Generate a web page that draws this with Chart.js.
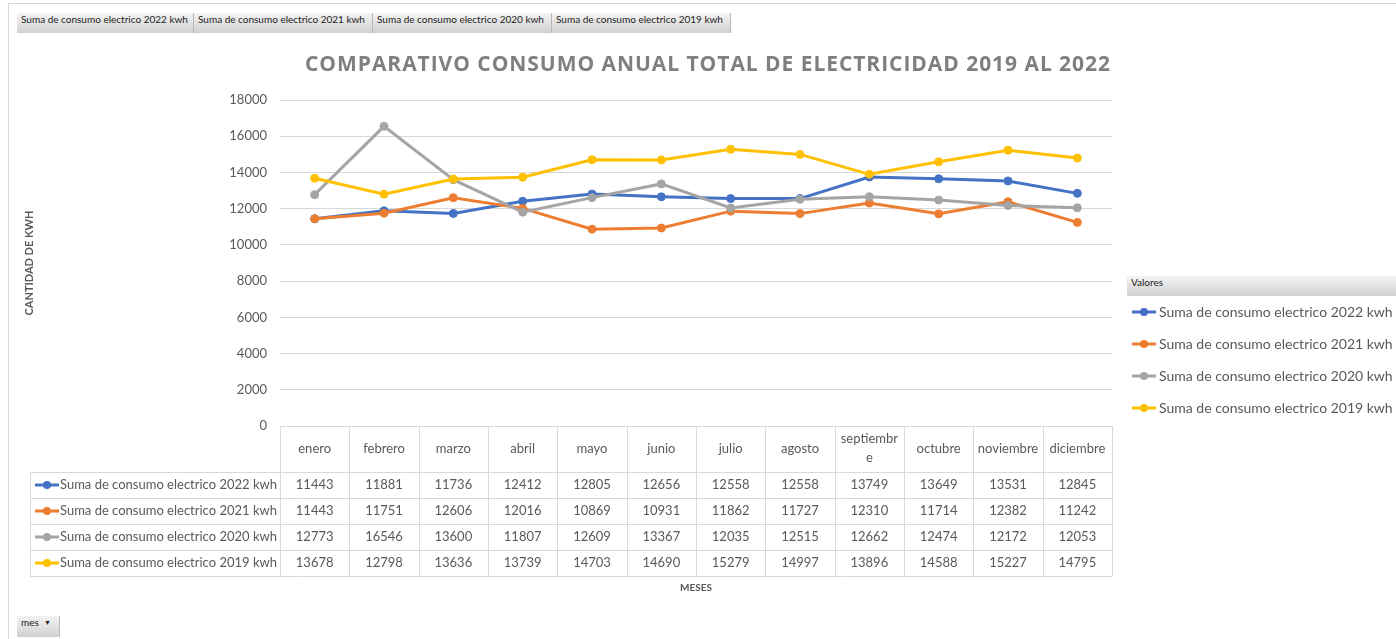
<!DOCTYPE html>
<html>
<head>
<meta charset="utf-8">
<script src="https://cdn.jsdelivr.net/npm/chart.js@4.4.1/dist/chart.umd.min.js"></script>
<style>
  html, body { margin: 0; padding: 0; background: #fff; }
  #wrap { position: relative; width: 1396px; height: 639px; overflow: hidden; }
  #wrap canvas { position: absolute; left: 0; top: 0; }
  .btn { position: absolute; height: 20px; line-height: 20px; font: 10px Lato, sans-serif; color: #222;
         background: linear-gradient(#f4f4f4, #d0d0d0); border-right: 1px solid #b8b8b8;
         box-sizing: border-box; padding-left: 4px; white-space: nowrap; }
  .frameTop { position: absolute; left: 8px; top: 3px; width: 1388px; height: 1px; background: #d6d6d6; }
  .frameLeft { position: absolute; left: 8px; top: 3px; width: 1px; height: 636px; background: #d6d6d6; }
</style>
</head>
<body>
<div id="wrap">
  <canvas id="consumoChart" width="1396" height="639"></canvas>
  <div class="frameTop"></div>
  <div class="frameLeft"></div>
  <div class="btn" style="left:17px;top:13px;width:177px;">Suma de consumo electrico 2022 kwh</div>
  <div class="btn" style="left:194px;top:13px;width:179px;">Suma de consumo electrico 2021 kwh</div>
  <div class="btn" style="left:373px;top:13px;width:179px;">Suma de consumo electrico 2020 kwh</div>
  <div class="btn" style="left:552px;top:13px;width:179px;">Suma de consumo electrico 2019 kwh</div>
  <div class="btn" style="left:1127px;top:276px;width:269px;border:none;">Valores</div>
  <div class="btn" style="left:17px;top:616px;width:43px;height:21px;">mes &nbsp;<span style="font-size:7px;position:relative;top:-1px;">&#9660;</span></div>
</div>
<script>
const meses = ['enero', 'febrero', 'marzo', 'abril', 'mayo', 'junio', 'julio', 'agosto',
               'septiembre', 'octubre', 'noviembre', 'diciembre'];
const consumo2022 = [11443, 11881, 11736, 12412, 12805, 12656, 12558, 12558, 13749, 13649, 13531, 12845];
const consumo2021 = [11443, 11751, 12606, 12016, 10869, 10931, 11862, 11727, 12310, 11714, 12382, 11242];
const consumo2020 = [12773, 16546, 13600, 11807, 12609, 13367, 12035, 12515, 12662, 12474, 12172, 12053];
const consumo2019 = [13678, 12798, 13636, 13739, 14703, 14690, 15279, 14997, 13896, 14588, 15227, 14795];
const nombresSeries = ['Suma de consumo electrico 2022 kwh', 'Suma de consumo electrico 2021 kwh',
                       'Suma de consumo electrico 2020 kwh', 'Suma de consumo electrico 2019 kwh'];
const colores = ['#4472C4', '#ED7D31', '#A5A5A5', '#FFC000'];
const titulo = 'COMPARATIVO CONSUMO ANUAL TOTAL DE ELECTRICIDAD 2019 AL 2022';

const textColor = '#595959';
const lineColor = '#d9d9d9';
const baseFont = 'Lato, "Open Sans", sans-serif';

function drawKey(ctx, x, y, color) {
    ctx.strokeStyle = color;
    ctx.lineWidth = 3;
    ctx.beginPath();
    ctx.moveTo(x, y);
    ctx.lineTo(x + 24, y);
    ctx.stroke();
    ctx.fillStyle = color;
    ctx.beginPath();
    ctx.arc(x + 12, y, 4, 0, Math.PI * 2);
    ctx.fill();
}

// titulo con espaciado entre letras
const titlePlugin = {
    id: 'excelTitle',
    afterDraw(chart) {
        const ctx = chart.ctx;
        ctx.save();
        ctx.font = 'bold 21px "Open Sans", sans-serif';
        ctx.fillStyle = '#7f7f7f';
        ctx.textBaseline = 'middle';
        ctx.textAlign = 'left';
        ctx.letterSpacing = '0px';
        const w = ctx.measureText(titulo).width;
        const sp = Math.max(0, (805 - w) / (titulo.length - 1));
        ctx.letterSpacing = sp + 'px';
        ctx.fillText(titulo, 305, 65);
        ctx.restore();
    }
};

// tabla de datos debajo del grafico
const tablePlugin = {
    id: 'dataTable',
    afterDraw(chart) {
        const { ctx, chartArea, scales: { x } } = chart;
        const n = meses.length;
        const colW = (chartArea.right - chartArea.left) / n;
        const top = chartArea.bottom;
        const headH = 46, rowH = 26;
        const labelLeft = 30;
        const bottom = top + headH + rowH * 4;
        ctx.save();
        ctx.strokeStyle = lineColor;
        ctx.lineWidth = 1;
        ctx.beginPath();
        for (let i = 0; i <= n; i++) {
            const cx = Math.round(chartArea.left + i * colW) + 0.5;
            ctx.moveTo(cx, top);
            ctx.lineTo(cx, bottom);
        }
        ctx.moveTo(labelLeft + 0.5, top + headH);
        ctx.lineTo(labelLeft + 0.5, bottom);
        for (let r = 0; r <= 4; r++) {
            const ry = Math.round(top + headH + r * rowH) + 0.5;
            ctx.moveTo(labelLeft, ry);
            ctx.lineTo(chartArea.right, ry);
        }
        ctx.stroke();

        ctx.font = '13px ' + baseFont;
        ctx.fillStyle = textColor;
        ctx.textAlign = 'center';
        ctx.textBaseline = 'middle';
        const maxW = colW - 7;
        meses.forEach((m, i) => {
            const cx = x.getPixelForValue(i);
            const cy = top + headH / 2;
            if (ctx.measureText(m).width > maxW) {
                let a = m;
                while (ctx.measureText(a).width > maxW) a = a.slice(0, -1);
                ctx.fillText(a, cx, cy - 10);
                ctx.fillText(m.slice(a.length), cx, cy + 9);
            } else {
                ctx.fillText(m, cx, cy);
            }
        });

        chart.data.datasets.forEach((ds, r) => {
            const cy = top + headH + r * rowH + rowH / 2;
            drawKey(ctx, 35, cy, ds.borderColor);
            ctx.fillStyle = textColor;
            ctx.textAlign = 'left';
            ctx.fillText(ds.label, 60, cy);
            ctx.textAlign = 'center';
            ds.data.forEach((v, i) => {
                ctx.fillText(String(v), x.getPixelForValue(i), cy);
            });
        });

        ctx.font = 'bold 10px ' + baseFont;
        ctx.fillText('MESES', (chartArea.left + chartArea.right) / 2, 588);
        ctx.restore();
    }
};

// leyenda a la derecha
const legendPlugin = {
    id: 'sideLegend',
    afterDraw(chart) {
        const ctx = chart.ctx;
        ctx.save();
        ctx.font = '14px ' + baseFont;
        ctx.textBaseline = 'middle';
        ctx.textAlign = 'left';
        chart.data.datasets.forEach((ds, i) => {
            const y = 312 + i * 32;
            drawKey(ctx, 1132, y, ds.borderColor);
            ctx.fillStyle = textColor;
            ctx.fillText(ds.label, 1159, y);
        });
        ctx.restore();
    }
};

const series = [consumo2022, consumo2021, consumo2020, consumo2019];

const ctx = document.getElementById('consumoChart').getContext('2d');
const consumoChart = new Chart(ctx, {
    type: 'line',
    data: {
        labels: meses,
        datasets: series.map((d, i) => ({
            label: nombresSeries[i],
            data: d,
            borderColor: colores[i],
            backgroundColor: colores[i],
            pointBackgroundColor: colores[i],
            pointBorderColor: colores[i],
            borderWidth: 3,
            pointRadius: 4,
            pointBorderWidth: 1,
            tension: 0,
            fill: false,
            order: 3 - i
        }))
    },
    options: {
        responsive: false,
        animation: false,
        devicePixelRatio: 1,
        layout: { padding: { left: 0, top: 100, right: 284, bottom: 213 } },
        scales: {
            x: {
                type: 'category',
                offset: true,
                grid: { display: false },
                border: { display: false },
                ticks: { display: false },
                afterFit: (s) => { s.height = 0; }
            },
            y: {
                min: 0,
                max: 18000,
                ticks: {
                    stepSize: 2000,
                    padding: 13,
                    color: textColor,
                    font: { family: baseFont, size: 13 },
                    callback: (v) => String(v)
                },
                grid: { color: lineColor, lineWidth: 1, drawTicks: false },
                border: { display: false },
                title: {
                    display: true,
                    text: 'CANTIDAD DE KWH',
                    color: textColor,
                    font: { family: baseFont, size: 11, weight: 'bold' },
                    padding: { top: 23, bottom: 0 }
                },
                afterFit: (s) => { s.width = 280; }
            }
        },
        plugins: {
            legend: { display: false },
            tooltip: { enabled: false }
        }
    },
    plugins: [titlePlugin, tablePlugin, legendPlugin]
});
</script>
</body>
</html>
